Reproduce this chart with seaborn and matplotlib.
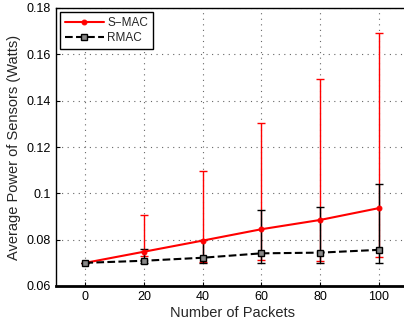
import matplotlib
matplotlib.use("Agg")
import matplotlib.pyplot as plt
import seaborn as sns
import numpy as np
import pandas as pd
from matplotlib.ticker import FuncFormatter

packets = [0, 20, 40, 60, 80, 100]
smac_mean = [0.0700, 0.0748, 0.0796, 0.0845, 0.0885, 0.0936]
smac_low = [0.0700, 0.0730, 0.0703, 0.0711, 0.0708, 0.0725]
smac_high = [0.0700, 0.0907, 0.1097, 0.1303, 0.1494, 0.1693]
rmac_mean = [0.0700, 0.0709, 0.0722, 0.0741, 0.0744, 0.0756]
rmac_low = [0.0700, 0.0700, 0.0701, 0.0701, 0.0701, 0.0701]
rmac_high = [0.0700, 0.0760, 0.0798, 0.0927, 0.0940, 0.1039]
y_ticks = [0.06, 0.08, 0.10, 0.12, 0.14, 0.16, 0.18]
x_ticks = [0, 20, 40, 60, 80, 100]

sns.set_style("white")
plt.rcParams['font.family'] = ['Liberation Sans', 'DejaVu Sans']

fig = plt.figure(figsize=(4.04, 3.27), dpi=100)
ax = fig.add_axes([56/404, 41/327, 352/404, 278/327])

df = pd.DataFrame({
    "packets": packets * 2,
    "power": smac_mean + rmac_mean,
    "protocol": ["S\u2212MAC"] * 6 + ["RMAC"] * 6,
})

sm = np.array(smac_mean)
rm = np.array(rmac_mean)
ax.errorbar(packets, sm, yerr=[sm - np.array(smac_low), np.array(smac_high) - sm],
            fmt='none', ecolor='red', elinewidth=1.0, capsize=3, capthick=1.0, zorder=2)
ax.errorbar(packets, rm, yerr=[rm - np.array(rmac_low), np.array(rmac_high) - rm],
            fmt='none', ecolor='black', elinewidth=1.0, capsize=3, capthick=1.0, zorder=2)

sns.lineplot(data=df[df.protocol == "S\u2212MAC"], x="packets", y="power", ax=ax,
             color='red', linewidth=1.5, marker='o', markersize=3.5,
             markeredgecolor='red', label="S\u2212MAC", zorder=3)
sns.lineplot(data=df[df.protocol == "RMAC"], x="packets", y="power", ax=ax,
             color='black', linewidth=1.5, linestyle='--', dashes=(4, 3), marker='s', markersize=4.5,
             markerfacecolor='#888888', markeredgecolor='black', markeredgewidth=1.0,
             label="RMAC", zorder=3)

ax.set_xlim(-10, 110)
ax.set_ylim(0.06, 0.18)
ax.set_xticks(x_ticks)
ax.set_yticks(y_ticks)
ax.yaxis.set_major_formatter(FuncFormatter(lambda v, p: f"{v:g}"))
ax.grid(True, linestyle=(0, (1, 4)), color='#666666', linewidth=0.8)
ax.tick_params(direction='in', length=3, labelsize=9, colors='black', width=0.8)
ax.tick_params(axis='both', which='both', top=False, right=False, bottom=True, left=True)
for s in ['top', 'left']:
    ax.spines[s].set_linewidth(1.0)
    ax.spines[s].set_color('black')
ax.spines['bottom'].set_linewidth(2.0)
ax.spines['bottom'].set_color('black')
ax.spines['right'].set_visible(False)

ax.set_xlabel("Number of Packets", fontsize=10.5, labelpad=2)
ax.set_ylabel("Average Power of Sensors (Watts)", fontsize=10.5, labelpad=4)

leg = ax.legend(loc='upper left', fontsize=8.5, frameon=True, fancybox=False,
                edgecolor='black', framealpha=1, borderpad=0.4, labelspacing=0.25,
                handlelength=3.3, handletextpad=0.3, borderaxespad=0.35)
leg.get_frame().set_linewidth(1.0)

fig.savefig("out.png", dpi=100)
